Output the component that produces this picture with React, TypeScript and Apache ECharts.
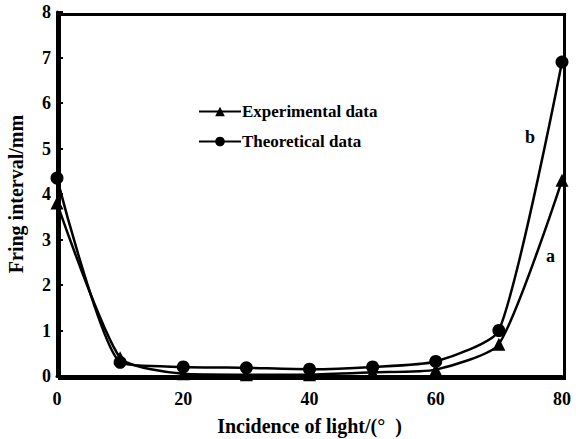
import React, { useEffect, useRef } from "react";
import * as echarts from "echarts";

const angles = [0, 10, 20, 30, 40, 50, 60, 70, 80];
const experimental = [3.8, 0.4, 0.05, 0.03, 0.03, 0.08, 0.14, 0.7, 4.3];
const theoretical = [4.35, 0.3, 0.2, 0.18, 0.15, 0.2, 0.32, 1.0, 6.9];
const xTicks = [0, 20, 40, 60, 80];
const yTicks = [0, 1, 2, 3, 4, 5, 6, 7, 8];

const FONT = "Liberation Serif";

export default function App() {
  const ref = useRef<HTMLDivElement>(null);
  useEffect(() => {
    if (!ref.current) return;
    const chart = echarts.init(ref.current, null, { renderer: "svg" });
    const pair = (ys: number[]) => angles.map((a, i) => [a, ys[i]]);
    const txt = { fontFamily: FONT, fontWeight: "bold", fontSize: 18, color: "#000" };
    chart.setOption({
      animation: false,
      backgroundColor: "#fff",
      grid: {
        left: 57,
        right: 14,
        top: 12,
        bottom: 63,
        show: false,
        containLabel: false,
        outerBoundsMode: "none",
      },
      legend: {
        orient: "vertical",
        left: 193,
        top: 98,
        itemWidth: 42,
        itemHeight: 12,
        itemGap: 13,
        textStyle: { ...txt, fontSize: 17, padding: [0, 0, 0, -4] },
        data: ["Experimental data", "Theoretical data"],
      },
      xAxis: {
        type: "value",
        min: 0,
        max: 80,
        interval: 20,
        name: "Incidence of light/(°  )",
        nameLocation: "middle",
        nameGap: 40,
        nameTextStyle: { ...txt, fontSize: 20 },
        axisLine: { show: true, onZero: false, lineStyle: { color: "#000", width: 3 } },
        axisTick: { show: false },
        splitLine: { show: false },
        axisLabel: {
          ...txt,
          margin: 14,
          formatter: (v: number) => (xTicks.includes(v) ? String(v) : ""),
        },
      },
      yAxis: {
        type: "value",
        min: 0,
        max: 8,
        interval: 1,
        name: "Fring interval/mm",
        nameLocation: "middle",
        nameGap: 31,
        nameTextStyle: { ...txt, fontSize: 20 },
        axisLine: { show: true, lineStyle: { color: "#000", width: 3 } },
        axisTick: { show: true, inside: true, length: 6, lineStyle: { color: "#000", width: 2 } },
        splitLine: { show: false },
        axisLabel: {
          ...txt,
          margin: 6,
          formatter: (v: number) => (yTicks.includes(v) ? String(v) : ""),
        },
      },
      graphic: [
        {
          type: "rect",
          left: 57,
          top: 12,
          shape: { width: 505, height: 364 },
          style: { fill: "none", stroke: "#000", lineWidth: 3 },
          silent: true,
          z: 10,
        },
        {
          type: "text",
          left: 525,
          top: 128,
          style: { text: "b", fontFamily: FONT, fontWeight: "bold", fontSize: 18, fill: "#000" },
        },
        {
          type: "text",
          left: 546,
          top: 247,
          style: { text: "a", fontFamily: FONT, fontWeight: "bold", fontSize: 18, fill: "#000" },
        },
      ],
      series: [
        {
          name: "Experimental data",
          type: "line",
          data: pair(experimental),
          smooth: 0.2,
          symbol: "triangle",
          symbolSize: 13,
          itemStyle: { color: "#000" },
          lineStyle: { color: "#000", width: 2.5 },
        },
        {
          name: "Theoretical data",
          type: "line",
          data: pair(theoretical),
          smooth: 0.2,
          symbol: "circle",
          symbolSize: 13,
          itemStyle: { color: "#000" },
          lineStyle: { color: "#000", width: 2.5 },
        },
      ],
    });
    return () => chart.dispose();
  }, []);
  return (
    <div
      ref={ref}
      style={{ position: "fixed", left: 0, top: 0, width: 576, height: 439, background: "#fff" }}
    />
  );
}
